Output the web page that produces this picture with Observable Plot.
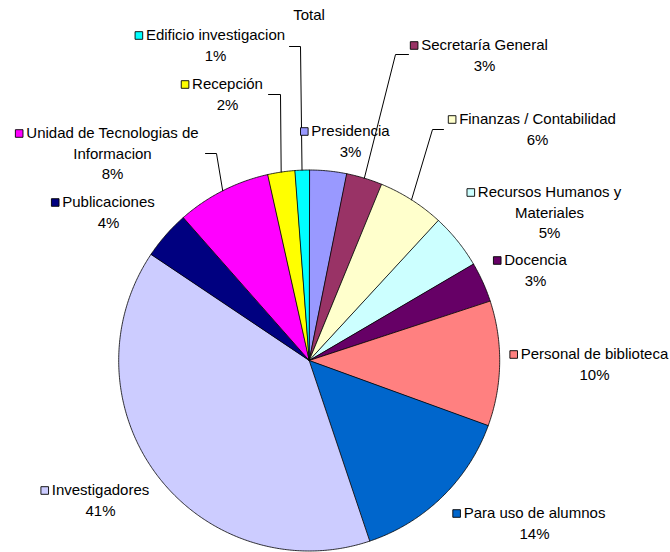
<!DOCTYPE html>
<html><head><meta charset="utf-8">
<script src="https://cdn.jsdelivr.net/npm/d3@7"></script>
<script src="https://cdn.jsdelivr.net/npm/@observablehq/plot@0.6"></script>
<style>
html,body{margin:0;padding:0;background:#fff;}
</style></head><body><div id="chart"></div>
<script>
// ---- data ----
const title = "Total";
const categories = ["Presidencia","Secretaría General","Finanzas / Contabilidad","Recursos Humanos y\nMateriales","Docencia","Personal de biblioteca","Para uso de alumnos","Investigadores","Publicaciones","Unidad de Tecnologias de\nInformacion","Recepción","Edificio investigacion"];
// slice sizes as drawn in the picture (share of the circle, %)
const values = [3.15,3.05,5.65,4.7,3.4,10.6,14.3,39.55,4.1,8.0,2.3,1.2];
// percentage labels as printed
const percentLabels = [3,3,6,5,3,10,14,41,4,8,2,1];
const colors = ["#9999FF","#993366","#FFFFCC","#CCFFFF","#660066","#FF8080","#0066CC","#CCCCFF","#000080","#FF00FF","#FFFF00","#00FFFF"];

// ---- layout ----
const W = 670, H = 552, CX = 308.7, CY = 360, R = 190.5;
const FS = 15, LINE = 20.3, FONT = "'Liberation Sans', Arial, sans-serif";
const labelX = [350,484,537,549,535,594,534,100,108,112,227,215];
const labelY = [131,45,119,192,260,354,513,490,202,133,84,35];
const leaders = [ // [slice index, start x, start y, elbow x]
  [1,408,54,395],[2,443,129,432],[9,205,153,216],[10,268,94,280],[11,289,46,300]
];

// ---- derived ----
const total = d3.sum(values);
const cum = d3.cumsum(values);
const ang = v => 2 * Math.PI * v / total;
const pt = (a, r) => ({x: CX + r * Math.sin(a), y: CY - r * Math.cos(a)});

const polys = [];
values.forEach((v, i) => {
  const a0 = ang(cum[i] - v), a1 = ang(cum[i]);
  const n = Math.max(2, Math.ceil((a1 - a0) / (Math.PI / 360)));
  polys.push({i, ...pt(0, 0)});
  for (let k = 0; k <= n; k++) polys.push({i, ...pt(a0 + (a1 - a0) * k / n, R)});
});

const leaderPts = [];
leaders.forEach(([i, x0, y0, xe]) => {
  const mid = ang(cum[i] - values[i] / 2);
  const e = pt(mid, R);
  leaderPts.push({i, x: x0, y: y0}, {i, x: xe, y: y0}, {i, x: e.x, y: e.y});
});

const ctx = document.createElement("canvas").getContext("2d");
ctx.font = `${FS}px 'Liberation Sans'`;

const textRows = [], squares = [];
categories.forEach((c, i) => {
  const lines = c.split("\n").concat(percentLabels[i] + "%");
  lines.forEach((t, k) => textRows.push({x: labelX[i], y: labelY[i] + k * LINE, text: t}));
  const w = ctx.measureText(lines[0]).width;
  squares.push({x: labelX[i] - w / 2 - 7, y: labelY[i], fill: colors[i]});
});

const chart = Plot.plot({
  width: W, height: H,
  margin: 0,
  x: {domain: [0, W], range: [0, W], axis: null},
  y: {domain: [0, H], range: [0, H], axis: null},
  color: {type: "identity"},
  style: {fontFamily: FONT, fontSize: FS + "px", background: "#fff"},
  marks: [
    Plot.line(polys, {x: "x", y: "y", z: "i", fill: d => colors[d.i], stroke: "#000", strokeWidth: 0.8, curve: "linear-closed"}),
    Plot.line(leaderPts, {x: "x", y: "y", z: "i", stroke: "#000", strokeWidth: 1}),
    Plot.dot(squares, {x: "x", y: "y", fill: "fill", stroke: "#000", strokeWidth: 0.9, symbol: "square", r: 4.3}),
    Plot.text(textRows, {x: "x", y: "y", text: "text", fill: "#000", fontSize: FS, textAnchor: "middle"}),
    Plot.text([title], {x: () => 308.5, y: () => 15, text: d => d, fill: "#000", fontSize: FS})
  ]
});
document.getElementById("chart").appendChild(chart);
</script></body></html>
